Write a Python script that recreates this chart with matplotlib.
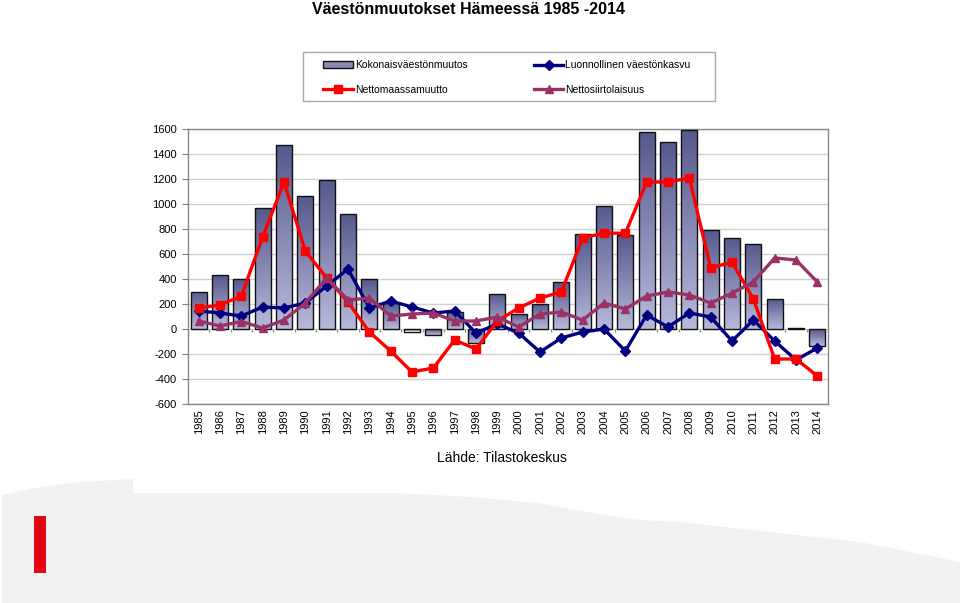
import numpy as np
import matplotlib
matplotlib.use("Agg")
import matplotlib.pyplot as plt
from matplotlib.patches import Polygon, Rectangle
from matplotlib.lines import Line2D
from matplotlib.colors import LinearSegmentedColormap

# ---------------- data ----------------
years = list(range(1985, 2015))
year_labels = [str(y) for y in years]
kokonais = [300, 432, 400, 968, 1472, 1064, 1192, 920, 400, 208,
            -20, -48, 136, -112, 280, 120, 200, 376, 760, 984,
            752, 1576, 1496, 1592, 792, 728, 680, 240, 8, -136]
luonnollinen = [144, 128, 104, 176, 168, 208, 344, 480, 168, 224,
                176, 128, 144, -32, 40, -32, -184, -72, -24, 0,
                -176, 112, 16, 128, 96, -96, 72, -96, -248, -152]
nettomaassa = [168, 192, 264, 736, 1176, 624, 408, 216, -24, -176,
               -344, -312, -88, -160, 64, 168, 248, 296, 728, 768,
               765, 1176, 1176, 1208, 488, 536, 240, -240, -240, -376]
nettosiirto = [64, 24, 60, 8, 72, 208, 408, 232, 248, 104,
               120, 128, 64, 64, 96, 16, 120, 136, 72, 208,
               160, 264, 296, 272, 208, 288, 376, 568, 552, 376]
yticks = list(range(-600, 1601, 200))
series_names = ["Kokonaisväestönmuutos", "Luonnollinen väestönkasvu",
                "Nettomaassamuutto", "Nettosiirtolaisuus"]
title = "Väestönmuutokset Hämeessä 1985 -2014"
source = "Lähde: Tilastokeskus"

plt.rcParams['font.family'] = ['Liberation Sans', 'DejaVu Sans']

W, H = 960, 603
fig = plt.figure(figsize=(W / 100, H / 100), dpi=100)


def fx(px):
    return px / W


def fy(py):
    return 1 - py / H


# ---------------- decorations ----------------
bg = [(2, 495), (40, 487), (80, 482), (133, 479), (133, 493), (397, 493),
      (470, 497), (537, 503), (600, 514), (640, 520), (680, 522),
      (860, 542), (960, 562), (960, 603), (2, 603)]
fig.patches.append(Polygon([(fx(a), fy(b)) for a, b in bg], closed=True,
                           transform=fig.transFigure, facecolor='#f2f2f2',
                           edgecolor='none', zorder=0))
fig.patches.append(Rectangle((fx(34), fy(573)), 12 / W, 57 / H,
                             transform=fig.transFigure, facecolor='#e30613',
                             edgecolor='none', zorder=1))
# legend box
fig.patches.append(Rectangle((fx(303), fy(101)), 412 / W, 49 / H,
                             transform=fig.transFigure, facecolor='white',
                             edgecolor='#a8a8a8', lw=1.0, zorder=1))

# ---------------- axes ----------------
ax = fig.add_axes([fx(188), fy(404), 640 / W, (404 - 129) / H])
x = np.arange(len(years))

bars = ax.bar(x, kokonais, width=0.75, facecolor='none', edgecolor='#111111',
              linewidth=1.0, zorder=3)
cmap = LinearSegmentedColormap.from_list('g', ['#56598c', '#b8badb'])
grad = np.linspace(0, 1, 256).reshape(-1, 1)
for b in bars:
    x0, y0 = b.get_x(), b.get_y()
    w, h = b.get_width(), b.get_height()
    ylo, yhi = min(y0, y0 + h), max(y0, y0 + h)
    im = ax.imshow(grad, cmap=cmap, extent=(x0, x0 + w, ylo, yhi),
                   origin='upper', aspect='auto', zorder=2.5,
                   interpolation='bilinear')
    im.set_clip_path(b)

# small category ticks on the zero line
ax.vlines(np.arange(len(years) + 1) - 0.5, -20, 0, color='#909090', lw=1, zorder=2)

l_blue, = ax.plot(x, luonnollinen, color='#000080', lw=2.4, marker='D', ms=5,
                  zorder=4)
l_red, = ax.plot(x, nettomaassa, color='#ff0000', lw=2.4, marker='s', ms=6,
                 zorder=5)
l_purple, = ax.plot(x, nettosiirto, color='#993366', lw=2.4, marker='^', ms=6,
                    zorder=6)

ax.set_xlim(-0.5, len(years) - 0.5)
ax.set_ylim(-600, 1600)
ax.set_yticks(yticks)
ax.set_yticklabels([str(v) for v in yticks], fontsize=8)
ax.set_xticks(x)
ax.set_xticklabels(year_labels, rotation=90, fontsize=8)
ax.tick_params(axis='x', length=0, pad=4)
ax.tick_params(axis='y', length=4, color='#808080', pad=4, direction='out')
ax.yaxis.grid(True, color='#d0d0d0', lw=1)
ax.set_axisbelow(True)
for s in ax.spines.values():
    s.set_color('#888888')
    s.set_linewidth(1.0)

# ---------------- legend ----------------
h_bar = Rectangle((0, 0), 1, 1, facecolor='#8a8cb6', edgecolor='#111111', lw=1)
handles = [h_bar, l_red, l_blue, l_purple]
labels = [series_names[0], series_names[2], series_names[1], series_names[3]]
leg = fig.legend(handles, labels, ncol=2,
                 bbox_to_anchor=(fx(507), fy(77.5)),
                 loc='center', bbox_transform=fig.transFigure,
                 frameon=False, fontsize=7.5, handlelength=2.8,
                 handletextpad=0.2, borderaxespad=0, borderpad=0.0,
                 labelspacing=1.35, columnspacing=6.4)
leg.set_zorder(3)

# ---------------- texts ----------------
fig.text(fx(468), fy(14.5), title, ha='center', va='baseline', fontsize=11.5,
         fontweight='bold')
fig.text(fx(502), fy(458), source, ha='center', va='center', fontsize=10)

fig.savefig('out.png', dpi=100)
